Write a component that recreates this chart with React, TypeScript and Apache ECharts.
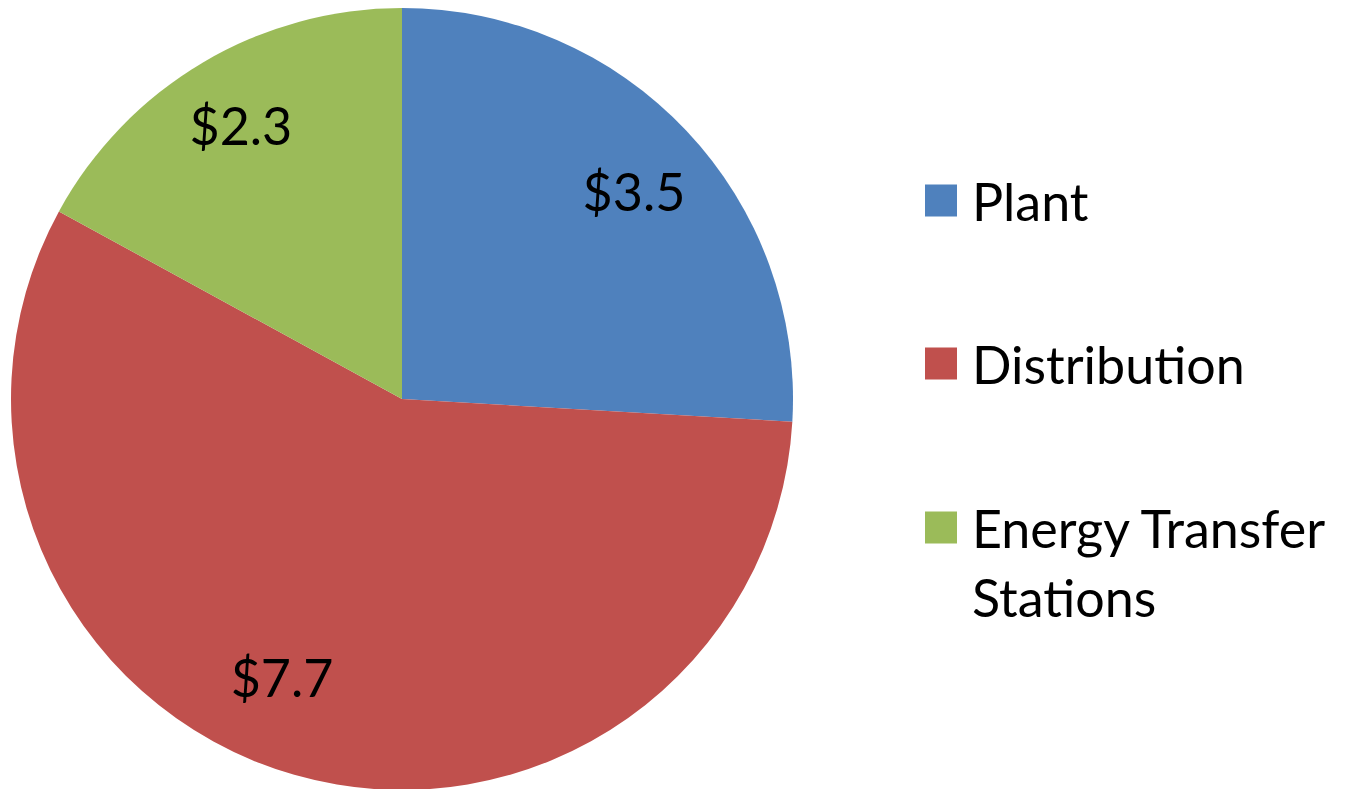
import React, { useEffect, useRef } from "react";
import * as echarts from "echarts";

const categories = ["Plant", "Distribution", "Energy Transfer Stations"];
const values = [3.5, 7.7, 2.3];
const colors = ["#4F81BD", "#C0504D", "#9BBB59"];
const labelOffsets: [number, number][] = [[5, 6], [-34, -22], [-2, -6]];

const FONT = "Lato";
const FS = 52;

export default function App() {
  const ref = useRef<HTMLDivElement>(null);
  useEffect(() => {
    if (!ref.current) return;
    const chart = echarts.init(ref.current, undefined, { renderer: "svg" });
    const pieData = categories.map((name, i) => ({
      name,
      value: values[i],
      itemStyle: { color: colors[i] },
    }));
    const labelData = categories.map((name, i) => ({
      name,
      value: values[i],
      label: { offset: labelOffsets[i] },
    }));
    const legendCommon = {
      orient: "vertical" as const,
      left: 925,
      padding: 0,
      itemWidth: 32,
      itemHeight: 32,
      icon: "rect",
      selectedMode: false,
      textStyle: {
        fontFamily: FONT,
        fontSize: FS,
        color: "#000",
        lineHeight: 69,
        padding: [0, 0, 0, 10],
      },
    };
    chart.setOption({
      animation: false,
      backgroundColor: "#fff",
      legend: [
        { ...legendCommon, top: 166, data: [categories[0]] },
        { ...legendCommon, top: 329, data: [categories[1]] },
        {
          ...legendCommon,
          top: 424,
          data: [categories[2]],
          formatter: () => " \nEnergy Transfer\nStations",
        },
      ],
      series: [
        {
          type: "pie",
          center: [402, 399],
          radius: 391,
          startAngle: 90,
          clockwise: true,
          silent: true,
          label: { show: false },
          labelLine: { show: false },
          itemStyle: { borderWidth: 0 },
          data: pieData,
        },
        {
          type: "pie",
          center: [402, 399],
          radius: [227, 391],
          startAngle: 90,
          clockwise: true,
          silent: true,
          itemStyle: { color: "rgba(0,0,0,0)", borderWidth: 0 },
          label: {
            show: true,
            position: "inside",
            formatter: (p: any) => "$" + p.value.toFixed(1),
            fontFamily: FONT,
            fontSize: FS,
            color: "#000",
          },
          labelLine: { show: false },
          data: labelData,
        },
      ],
    });
    return () => chart.dispose();
  }, []);
  return (
    <div
      ref={ref}
      style={{ position: "fixed", left: 0, top: 0, width: 1347, height: 789 }}
    />
  );
}
